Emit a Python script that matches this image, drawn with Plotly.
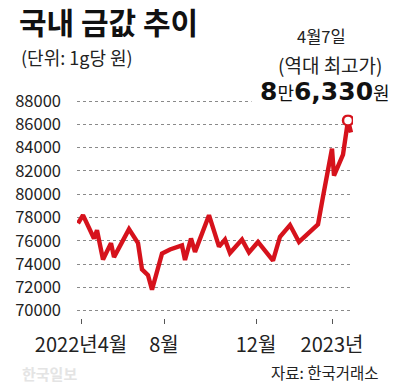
import plotly.graph_objects as go

# trading-day index (approx.) and gold price per gram (KRW)
day_idx = [0, 5, 16, 19, 25, 33, 36, 51, 60, 64, 70, 74, 84, 92, 104, 107, 113, 117,
           131, 141, 147, 152, 164, 171, 180, 195, 202, 212, 221, 240, 245, 254, 256,
           265, 270, 273]
price = [77500, 78200, 76200, 76900, 74400, 75800, 74600, 77000, 75800, 73550, 73050,
         71800, 74900, 75250, 75600, 74350, 76200, 75050, 78200, 75500, 76100, 74950,
         76100, 75000, 75900, 74300, 76350, 77350, 75900, 77400, 79800, 83900, 81600,
         83400, 86330, 85300]

peak_idx = 270
peak_val = 86330

x_tick_vals = [3, 86, 178, 254]
x_tick_text = ["2022년4월", "8월", "12월", "2023년"]
y_tick_vals = [70000, 72000, 74000, 76000, 78000, 80000, 82000, 84000, 86000, 88000]

FONT = "'Noto Sans CJK KR', 'Noto Sans', sans-serif"
RED = "#d6121c"

# plot area in window pixels: left 77, top 95, width 276, height 223
PW, PH, PL, PT = 276, 223, 77, 95
def px(x):
    return (x - PL) / PW
def py(y):
    return 1 - (y - PT) / PH

fig = go.Figure()
fig.add_trace(go.Scatter(x=day_idx, y=price, mode="lines",
                         line=dict(color=RED, width=4.4), hoverinfo="skip"))
fig.add_trace(go.Scatter(x=[peak_idx], y=[peak_val], mode="markers",
                         marker=dict(symbol="circle", size=10, color="white",
                                     line=dict(color=RED, width=2.5)),
                         hoverinfo="skip"))

big = "font-family:DejaVu Sans;font-weight:bold;font-size:25px"

fig.update_layout(
    width=400, height=389,
    margin=dict(l=77, r=47, t=95, b=71),
    paper_bgcolor="white", plot_bgcolor="white",
    showlegend=False,
    font=dict(family=FONT, color="#222"),
    xaxis=dict(range=[-1, 275], showgrid=False, zeroline=False, showline=False,
               tickmode="array", tickvals=x_tick_vals, ticktext=x_tick_text,
               ticks="outside", ticklen=5, tickcolor="#555", tickwidth=1,
               ticklabelstandoff=4,
               tickfont=dict(family=FONT, size=20, color="#222")),
    yaxis=dict(range=[69373, 88515], showgrid=True, gridcolor="#8a8a8a", gridwidth=1,
               griddash="dot", zeroline=False, showline=False,
               tickmode="array", tickvals=y_tick_vals, tickformat="d",
               ticks="", ticklabelstandoff=15,
               tickfont=dict(family=FONT, size=16.5, color="#222")),
    annotations=[
        dict(text=f"<span style='{big}'>8</span>만"
                  f"<span style='{big}'>6,330</span>원",
             xref="paper", yref="paper", x=px(325), y=py(92),
             xanchor="center", yanchor="middle", showarrow=False,
             bgcolor="white", borderpad=8,
             font=dict(family=FONT, size=18, color="#111")),
        dict(text="<b>국내 금값 추이</b>", xref="paper", yref="paper", x=px(17), y=py(21),
             xanchor="left", yanchor="middle", showarrow=False,
             font=dict(family=FONT, size=30, color="#111")),
        dict(text="(단위: 1g당 원)", xref="paper", yref="paper", x=px(19), y=py(57),
             xanchor="left", yanchor="middle", showarrow=False,
             font=dict(family=FONT, size=18, color="#222")),
        dict(text="4월7일", xref="paper", yref="paper", x=px(321), y=py(36),
             xanchor="center", yanchor="middle", showarrow=False,
             font=dict(family=FONT, size=16.5, color="#222")),
        dict(text="(역대 최고가)", xref="paper", yref="paper", x=px(330), y=py(64),
             xanchor="center", yanchor="middle", showarrow=False,
             font=dict(family=FONT, size=19, color="#222")),
        dict(text="자료: 한국거래소", xref="paper", yref="paper", x=px(381), y=py(372),
             xanchor="right", yanchor="middle", showarrow=False,
             font=dict(family=FONT, size=15.5, color="#222")),
        dict(text="<b>한국일보</b>", xref="paper", yref="paper", x=px(20), y=py(373),
             xanchor="left", yanchor="middle", showarrow=False,
             font=dict(family=FONT, size=15, color="#e4e4e4")),
    ],
)

fig.write_html("out.html", config={"displayModeBar": False},
               post_script="document.body.style.margin='0';")
